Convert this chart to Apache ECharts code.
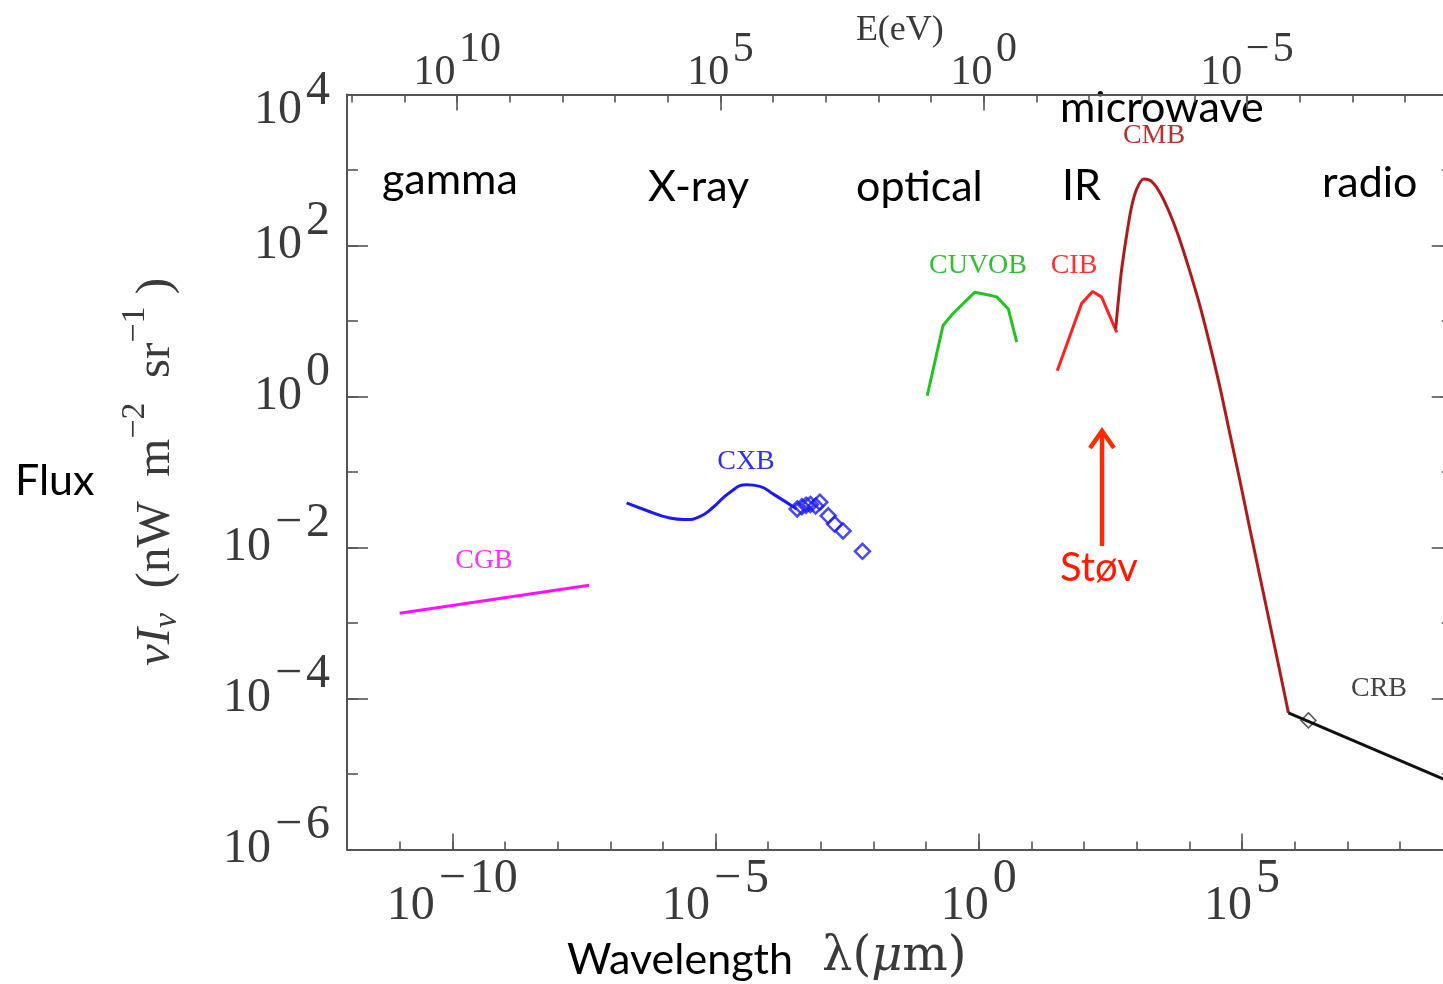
<!DOCTYPE html>
<html>
<head>
<meta charset="utf-8">
<title>Extragalactic background light</title>
<script src="https://cdn.jsdelivr.net/npm/echarts@6/dist/echarts.min.js"></script>
<style>
  html, body { margin: 0; padding: 0; background: #fff; }
  #chart { width: 1443px; height: 984px; }
</style>
</head>
<body>
<div id="chart"></div>
<script>
// all values are log10: wavelength in micron, flux nu*I_nu in nW m^-2 sr^-1
var cgbWl = [-11.0, -7.4];
var cgbFlux = [-2.87, -2.50];

var cxbWl = [-6.69, -6.31, -5.87, -5.59, -5.30, -5.05, -4.73, -4.41, -4.16, -3.91, -3.46];
var cxbFlux = [-1.41, -1.51, -1.61, -1.63, -1.59, -1.47, -1.27, -1.17, -1.19, -1.29, -1.49];
// measured points on the X-ray tail (diamonds)
var cxbPtWl = [-3.45, -3.36, -3.28, -3.20, -3.10, -3.02, -2.86, -2.74, -2.58, -2.21];
var cxbPtFlux = [-1.49, -1.46, -1.44, -1.43, -1.45, -1.40, -1.58, -1.69, -1.78, -2.05];

var cuvobWl = [-0.98, -0.68, -0.49, -0.08, 0.21, 0.34, 0.56, 0.72];
var cuvobFlux = [0.01, 0.94, 1.10, 1.38, 1.34, 1.32, 1.16, 0.72];

var cibWl = [1.49, 1.95, 2.16, 2.33, 2.62];
var cibFlux = [0.34, 1.23, 1.39, 1.32, 0.85];

var cmbWl = [2.60, 2.65, 2.71, 2.81, 2.90, 3.00, 3.13, 3.28, 3.44, 3.60, 3.78, 3.98, 4.20, 4.39, 4.58, 4.77, 4.96, 5.15, 5.34, 5.53, 5.72, 5.88];
var cmbFlux = [0.90, 1.27, 1.67, 2.15, 2.51, 2.75, 2.88, 2.85, 2.70, 2.47, 2.15, 1.72, 1.20, 0.68, 0.12, -0.50, -1.12, -1.76, -2.39, -3.02, -3.65, -4.19];

var crbWl = [5.88, 9.0];
var crbFlux = [-4.19, -5.12];
var crbPtWl = [6.26];
var crbPtFlux = [-4.29];

// axes (log10 units)
var wlMin = -12, wlMax = 9;
var fluxMin = -6, fluxMax = 4;
var hcEvMicron = 1.2398;   // E(eV) = 1.2398 / lambda(um)
var wlLabels = [-10, -5, 0, 5];
var fluxLabels = [4, 2, 0, -2, -4, -6];
var energyLabels = [10, 5, 0, -5];

function pairs(xs, ys) {
  var out = [];
  for (var i = 0; i < xs.length; i++) out.push([xs[i], ys[i]]);
  return out;
}
function ints(a, b) {
  var out = [];
  for (var i = Math.ceil(a); i <= Math.floor(b); i++) out.push(i);
  return out;
}

var eOff = Math.log10(hcEvMicron);
var eMin = eOff - wlMax, eMax = eOff - wlMin;

var ink = '#3a3a3a';
var serif = '"Liberation Serif", "DejaVu Serif", serif';
var wideSerif = '"DejaVu Serif", "Liberation Serif", serif';
var sans = 'Lato, "Open Sans", sans-serif';

function expText(v) {
  var e = Math.round(v);
  return '\u200A' + (e < 0 ? '\u2212\u200A' + (-e) : String(e));
}
function pow10(v) {
  if (Math.round(v) === fluxMax) return '{bt|10}{st|' + expText(v) + '}';
  return '{b|10}{s|' + expText(v) + '}';
}
// base sits on the line middle, exponent (same size, as in the original) hangs from the top
function powRich(size, half) {
  return {
    b: { fontFamily: serif, fontSize: size, color: ink, verticalAlign: 'middle' },
    s: { fontFamily: serif, fontSize: size, height: size, lineHeight: half * 2, color: ink, verticalAlign: 'top' },
    // top label of the flux axis sits lower than its tick in the original
    bt: { fontFamily: serif, fontSize: size, height: size, color: ink, verticalAlign: 'bottom' },
    st: { fontFamily: serif, fontSize: size, height: 72, lineHeight: 79, color: ink, verticalAlign: 'top' }
  };
}

var axisLine = { onZero: false, lineStyle: { color: '#555', width: 2 } };
var tickStyle = { color: '#555', width: 1.6 };

function minorX(pos, min, max, inv, vals) {
  return {
    type: 'value', position: pos, min: min, max: max, inverse: !!inv,
    axisLine: { show: false, onZero: false },
    axisTick: { inside: true, length: 8, customValues: vals, lineStyle: tickStyle },
    axisLabel: { show: false }, splitLine: { show: false }
  };
}
function minorY(pos) {
  return {
    type: 'value', position: pos, min: fluxMin, max: fluxMax,
    axisLine: { show: false, onZero: false },
    axisTick: { inside: true, length: 11, customValues: ints(fluxMin, fluxMax), lineStyle: tickStyle },
    axisLabel: { show: false }, splitLine: { show: false }
  };
}

var chart = echarts.init(document.getElementById('chart'));

chart.setOption({
  animation: false,
  backgroundColor: '#fff',
  grid: { left: 347, top: 94.5, right: -9.7, bottom: 134.5, outerBoundsMode: 'none', containLabel: false },
  xAxis: [
    {
      type: 'value', position: 'bottom', min: wlMin, max: wlMax,
      axisLine: axisLine,
      axisTick: { inside: true, length: 16, customValues: wlLabels, lineStyle: tickStyle },
      axisLabel: { customValues: wlLabels, formatter: pow10, verticalAlign: 'middle', margin: 57, rich: powRich(48, 51) },
      splitLine: { show: false }
    },
    minorX('bottom', wlMin, wlMax, false, ints(wlMin, wlMax)),
    {
      type: 'value', position: 'top', min: eMin, max: eMax, inverse: true,
      axisLine: axisLine,
      axisTick: { inside: true, length: 16, customValues: energyLabels, lineStyle: tickStyle },
      axisLabel: { customValues: energyLabels, formatter: pow10, verticalAlign: 'middle', margin: 22, rich: powRich(42, 44) },
      splitLine: { show: false },
      name: 'E(eV)', nameLocation: 'middle', nameGap: 46, nameMoveOverlap: false,
      nameTextStyle: { fontFamily: serif, fontSize: 36, color: ink }
    },
    minorX('top', eMin, eMax, true, ints(eMin, eMax))
  ],
  yAxis: [
    {
      type: 'value', position: 'left', min: fluxMin, max: fluxMax,
      axisLine: axisLine,
      axisTick: { inside: true, length: 21, customValues: fluxLabels, lineStyle: tickStyle },
      axisLabel: { customValues: fluxLabels, formatter: pow10, margin: 17, rich: powRich(48, 48) },
      splitLine: { show: false },
      name: '{i|\u03BDI}{sub|\u03BD}{r|  (nW  m}{sup|\u22122}{r|  sr}{sup|\u22121}{r| )}',
      nameLocation: 'middle', nameGap: 153, nameMoveOverlap: false,
      nameTextStyle: {
        rich: {
          i: { fontFamily: serif, fontStyle: 'italic', fontSize: 49, color: ink, verticalAlign: 'middle' },
          r: { fontFamily: serif, fontSize: 49, color: ink, verticalAlign: 'middle' },
          sub: { fontFamily: serif, fontStyle: 'italic', fontSize: 34, height: 54, color: ink, verticalAlign: 'bottom' },
          sup: { fontFamily: serif, fontSize: 34, height: 34, lineHeight: 76, color: ink, verticalAlign: 'top' }
        }
      }
    },
    minorY('left'),
    {
      type: 'value', position: 'right', min: fluxMin, max: fluxMax,
      axisLine: axisLine,
      axisTick: { inside: true, length: 21, customValues: fluxLabels, lineStyle: tickStyle },
      axisLabel: { show: false }, splitLine: { show: false }
    },
    minorY('right')
  ],
  series: [
    { name: 'CGB', type: 'line', data: pairs(cgbWl, cgbFlux), showSymbol: false,
      lineStyle: { color: '#ff10ff', width: 3 } },
    { name: 'CXB', type: 'line', data: pairs(cxbWl, cxbFlux), showSymbol: false, smooth: 0.5,
      lineStyle: { color: '#1a1af5', width: 3 } },
    { name: 'CXB points', type: 'scatter', data: pairs(cxbPtWl, cxbPtFlux), symbol: 'diamond', symbolSize: 15,
      itemStyle: { color: 'rgba(0,0,0,0)', borderColor: '#1a1af5', borderWidth: 2.5 } },
    { name: 'CUVOB', type: 'line', data: pairs(cuvobWl, cuvobFlux), showSymbol: false,
      lineStyle: { color: '#22c422', width: 3 } },
    { name: 'CIB', type: 'line', data: pairs(cibWl, cibFlux), showSymbol: false,
      lineStyle: { color: '#ff2020', width: 3 } },
    { name: 'CMB', type: 'line', data: pairs(cmbWl, cmbFlux), showSymbol: false, smooth: 0.3,
      lineStyle: { color: '#b01a1a', width: 3 } },
    { name: 'CRB', type: 'line', data: pairs(crbWl, crbFlux), showSymbol: false,
      lineStyle: { color: '#111', width: 3 } },
    { name: 'CRB point', type: 'scatter', data: pairs(crbPtWl, crbPtFlux), symbol: 'diamond', symbolSize: 15,
      itemStyle: { color: 'rgba(0,0,0,0)', borderColor: '#333', borderWidth: 1.6 } }
  ],
  graphic: [
    // band names and slide notes
    { type: 'text', x: 382, y: 180, style: { text: 'gamma', font: '43px ' + sans, fill: '#000', verticalAlign: 'middle' } },
    { type: 'text', x: 648, y: 187, style: { text: 'X-ray', font: '43px ' + sans, fill: '#000', verticalAlign: 'middle' } },
    { type: 'text', x: 856, y: 187, style: { text: 'optical', font: '43px ' + sans, fill: '#000', verticalAlign: 'middle' } },
    { type: 'text', x: 1062, y: 186, style: { text: 'IR', font: '43px ' + sans, fill: '#000', verticalAlign: 'middle' } },
    { type: 'text', x: 1060, y: 108, style: { text: 'microwave', font: '43px ' + sans, fill: '#000', verticalAlign: 'middle' } },
    { type: 'text', x: 1322, y: 183, style: { text: 'radio', font: '43px ' + sans, fill: '#000', verticalAlign: 'middle' } },
    { type: 'text', x: 15, y: 481, style: { text: 'Flux', font: '43px ' + sans, fill: '#000', verticalAlign: 'middle' } },
    { type: 'text', x: 567, y: 960, style: { text: 'Wavelength', font: '43px ' + sans, fill: '#000', verticalAlign: 'middle' } },
    { type: 'text', x: 822, y: 958, style: {
        text: '{a|\u03BB(}{i|\u03BC}{a|m)}', verticalAlign: 'middle',
        rich: {
          a: { fontFamily: wideSerif, fontSize: 48, fill: ink, color: ink },
          i: { fontFamily: wideSerif, fontStyle: 'italic', fontSize: 48, fill: ink, color: ink }
        } } },
    { type: 'text', x: 1060, y: 568, style: { text: 'St\u00F8v', font: '40px ' + sans, fill: '#ff1a00', verticalAlign: 'middle' } },
    // series tags
    { type: 'text', x: 484, y: 561, style: { text: 'CGB', font: '28px ' + serif, fill: '#ff30ff', align: 'center', verticalAlign: 'middle' } },
    { type: 'text', x: 746, y: 462, style: { text: 'CXB', font: '28px ' + serif, fill: '#3030f0', align: 'center', verticalAlign: 'middle' } },
    { type: 'text', x: 978, y: 266, style: { text: 'CUVOB', font: '28px ' + serif, fill: '#30c030', align: 'center', verticalAlign: 'middle' } },
    { type: 'text', x: 1074, y: 266, style: { text: 'CIB', font: '28px ' + serif, fill: '#ff3030', align: 'center', verticalAlign: 'middle' } },
    { type: 'text', x: 1154, y: 136, style: { text: 'CMB', font: '28px ' + serif, fill: '#b83030', align: 'center', verticalAlign: 'middle' } },
    { type: 'text', x: 1379, y: 689, style: { text: 'CRB', font: '28px ' + serif, fill: '#444', align: 'center', verticalAlign: 'middle' } },
    // dust arrow
    { type: 'line', shape: { x1: 1102, y1: 546, x2: 1102, y2: 432 }, style: { stroke: '#ff2a00', lineWidth: 4.5 } },
    { type: 'polyline', shape: { points: [[1090, 448], [1102, 431], [1114, 448]] }, style: { stroke: '#ff2a00', lineWidth: 4.5, fill: null } }
  ]
});
</script>
</body>
</html>
